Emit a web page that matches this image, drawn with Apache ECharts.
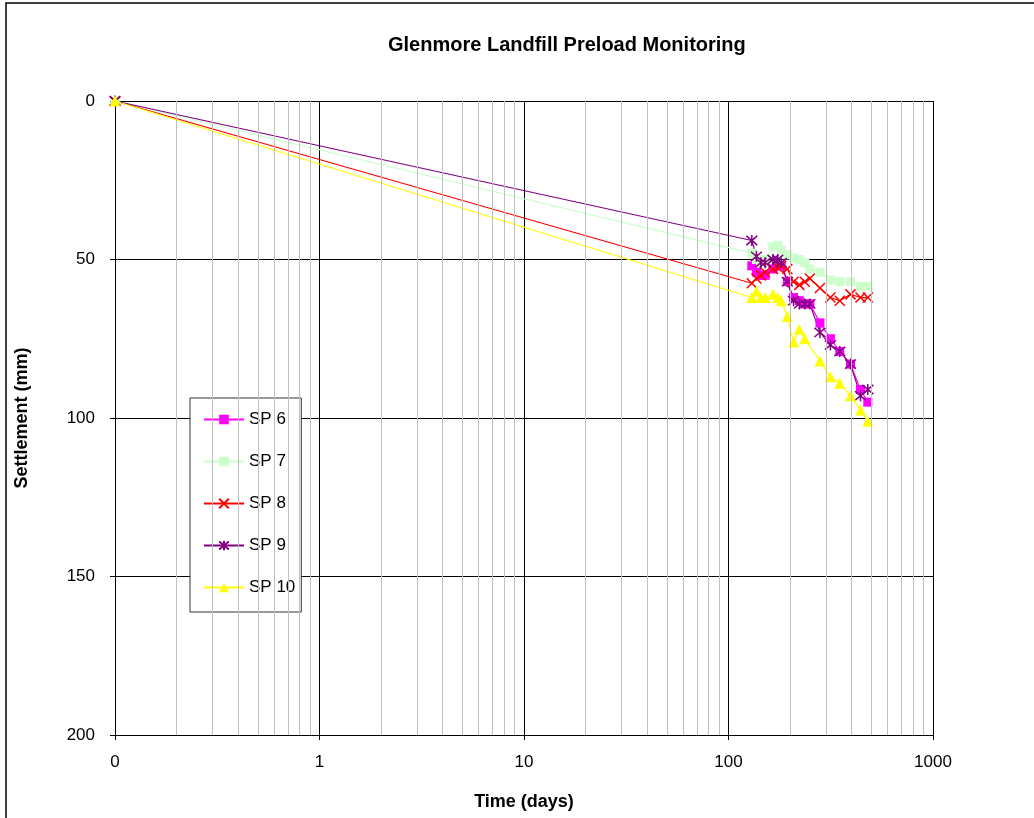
<!DOCTYPE html>
<html>
<head>
<meta charset="utf-8">
<title>Glenmore Landfill Preload Monitoring</title>
<script src="https://cdn.jsdelivr.net/npm/echarts@6/dist/echarts.min.js"></script>
<style>
  html, body { margin: 0; padding: 0; background: #fff; }
  #chart { width: 1034px; height: 818px; }
</style>
</head>
<body>
<div id="chart"></div>
<script>
  // time in days (0.1 stands for day 0 on the log axis, shown as "0")
  var days = [0.1, 130, 137, 144, 151, 165, 174, 181, 194, 208, 222, 236, 250, 280, 315, 350, 395, 442, 480];

  // settlement in mm
  var sp6 = [null, 52, 54, 55, 55, 53, 52, 52, 57, 62, 63, 64, 64, 70, 75, 79, 83, 91, 95];
  var sp7 = [0, 48, 50, 51, 50, 46, 45.5, 47, 48.5, 49.5, 50, 51, 53, 54, 56.5, 57, 57, 58.5, 58.5];
  var sp8 = [0, 57.5, 56, 55, 54, 53, 52.5, 52, 53, 57, 58, 57, 56, 59, 62, 63, 61, 62, 62];
  var sp9 = [0, 44, 49, 51, 51, 50, 50, 51, 57, 63, 64, 64, 64, 73, 77, 79, 83, 93, 91];
  var sp10 = [0, 62, 60, 62, 62, 61, 62, 63, 68, 76, 72, 75, null, 82, 87, 89, 93, 97.5, 101];

  var seriesNames = ['SP 6', 'SP 7', 'SP 8', 'SP 9', 'SP 10'];
  var xTicks = [0.1, 1, 10, 100, 1000];
  var yTicks = [0, 50, 100, 150, 200];

  // minor log gridlines 2..9 in each decade
  var minorLines = [];
  for (var d = 0; d < xTicks.length - 1; d++) {
    for (var m = 2; m <= 9; m++) {
      minorLines.push({ xAxis: +(xTicks[d] * m).toPrecision(3) });
    }
  }

  function pairs(vals) {
    return days.map(function (t, i) { return [t, vals[i]]; });
  }

  var FONT = '"Liberation Sans", Arial, sans-serif';
  var crossPath = 'path://M0,0L10,10M10,0L0,10';
  var starPath = 'path://M0,0L10,10M10,0L0,10M5,-1L5,11';

  var chart = echarts.init(document.getElementById('chart'));

  var option = {
    backgroundColor: '#fff',
    animation: false,
    textStyle: { fontFamily: FONT, color: '#000' },
    title: {
      text: 'Glenmore Landfill Preload Monitoring',
      left: 388,
      top: 35,
      padding: 0,
      textStyle: { fontSize: 20, fontWeight: 'bold', color: '#000', fontFamily: FONT }
    },
    graphic: [{
      type: 'rect',
      shape: { x: 6, y: 3, width: 1200, height: 1000 },
      style: { fill: 'none', stroke: '#000', lineWidth: 1.5 },
      silent: true
    }],
    legend: {
      orient: 'vertical',
      left: 190,
      top: 398,
      data: seriesNames,
      itemWidth: 40,
      itemHeight: 12,
      itemGap: 25,
      padding: [13, 6, 16, 13],
      borderColor: '#333',
      borderWidth: 1,
      backgroundColor: '#fff',
      textStyle: { fontSize: 17, color: '#000', fontFamily: FONT }
    },
    grid: { left: 115, right: 101, top: 101, bottom: 83, containLabel: false },
    xAxis: {
      type: 'log',
      logBase: 10,
      min: 0.1,
      max: 1000,
      name: 'Time (days)',
      nameLocation: 'middle',
      nameGap: 58,
      nameTextStyle: { fontSize: 18, fontWeight: 'bold', color: '#000', fontFamily: FONT },
      axisLine: { onZero: false, lineStyle: { color: '#000', width: 1 } },
      axisTick: { show: true, length: 5, lineStyle: { color: '#000' } },
      axisLabel: {
        margin: 19,
        fontSize: 17,
        color: '#000',
        formatter: function (v) { return v < 1 ? '0' : String(Math.round(v)); }
      },
      splitLine: { show: true, lineStyle: { color: '#000', width: 1 } }
    },
    yAxis: {
      type: 'value',
      inverse: true,
      min: yTicks[0],
      max: yTicks[yTicks.length - 1],
      interval: 50,
      name: 'Settlement (mm)',
      nameLocation: 'middle',
      nameGap: 84,
      nameRotate: 90,
      nameTextStyle: { fontSize: 18, fontWeight: 'bold', color: '#000', fontFamily: FONT },
      axisLine: { show: true, onZero: false, lineStyle: { color: '#000', width: 1 } },
      axisTick: { show: true, length: 5, lineStyle: { color: '#000' } },
      axisLabel: { margin: 20, fontSize: 17, color: '#000' },
      splitLine: { show: true, lineStyle: { color: '#000', width: 1 } }
    },
    series: [
      {
        name: 'minor grid',
        type: 'line',
        data: [],
        z: -1,
        silent: true,
        markLine: {
          silent: true,
          symbol: 'none',
          label: { show: false },
          lineStyle: { color: '#c0c0c0', type: 'solid', width: 1 },
          data: minorLines
        }
      },
      {
        name: 'SP 6',
        type: 'line',
        data: pairs(sp6),
        symbol: 'rect',
        symbolSize: 9,
        lineStyle: { color: '#ff00ff', width: 1.2 },
        itemStyle: { color: '#ff00ff' }
      },
      {
        name: 'SP 7',
        type: 'line',
        data: pairs(sp7),
        symbol: 'rect',
        symbolSize: 9,
        lineStyle: { color: '#ccffcc', width: 1.2 },
        itemStyle: { color: '#ccffcc' }
      },
      {
        name: 'SP 8',
        type: 'line',
        data: pairs(sp8),
        symbol: crossPath,
        symbolSize: 10,
        lineStyle: { color: '#ff0000', width: 1.2 },
        itemStyle: { color: '#ff0000', borderColor: '#ff0000', borderWidth: 1.5 }
      },
      {
        name: 'SP 9',
        type: 'line',
        data: pairs(sp9),
        symbol: starPath,
        symbolSize: 11,
        lineStyle: { color: '#800080', width: 1.2 },
        itemStyle: { color: '#800080', borderColor: '#800080', borderWidth: 1.5 }
      },
      {
        name: 'SP 10',
        type: 'line',
        data: pairs(sp10),
        connectNulls: true,
        symbol: 'triangle',
        symbolSize: 11,
        lineStyle: { color: '#ffff00', width: 1.2 },
        itemStyle: { color: '#ffff00' }
      }
    ]
  };

  chart.setOption(option);
</script>
</body>
</html>
